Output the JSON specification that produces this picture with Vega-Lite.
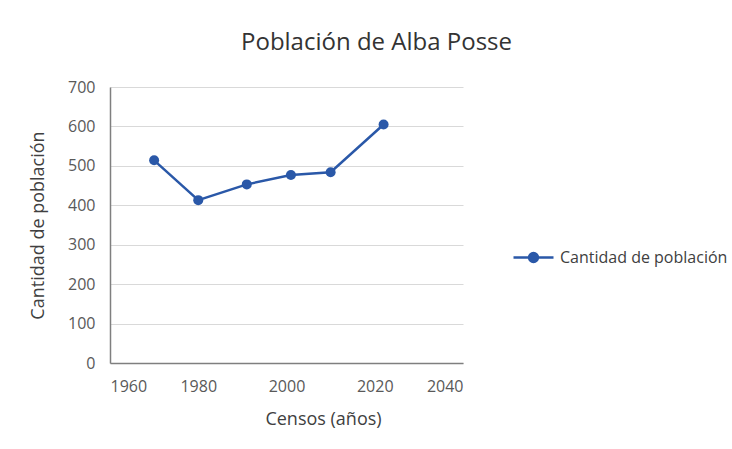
{
  "$schema": "https://vega.github.io/schema/vega-lite/v6.json",
  "width": 353,
  "height": 276,
  "autosize": {"type": "none"},
  "padding": {"left": 110, "top": 87, "right": 269, "bottom": 86},
  "background": "white",
  "title": {
    "text": "Población de Alba Posse",
    "font": "Open Sans",
    "fontSize": 24,
    "fontWeight": "normal",
    "color": "#333333",
    "anchor": "middle",
    "dx": 90,
    "offset": 24
  },
  "config": {
    "view": {"stroke": null},
    "font": "Open Sans"
  },
  "data": {
    "values": [
      {"anio": 1970, "poblacion": 514},
      {"anio": 1980, "poblacion": 413},
      {"anio": 1991, "poblacion": 453},
      {"anio": 2001, "poblacion": 477},
      {"anio": 2010, "poblacion": 484},
      {"anio": 2022, "poblacion": 605}
    ]
  },
  "encoding": {
    "x": {
      "field": "anio",
      "type": "quantitative",
      "scale": {"domain": [1960, 2040], "nice": false, "zero": false},
      "axis": {
        "title": "Censos (años)",
        "values": [1960, 1980, 2000, 2020, 2040],
        "format": "d",
        "grid": false,
        "ticks": false,
        "domainColor": "#7f7f7f",
        "domainWidth": 1.5,
        "labelFont": "Open Sans",
        "labelFontSize": 16,
        "labelColor": "#595959",
        "labelPadding": 15,
        "titleFont": "Open Sans",
        "titleFontSize": 18,
        "titleFontWeight": "normal",
        "titleColor": "#404040",
        "titleX": 213,
        "titleY": 61,
        "titleAlign": "center",
        "titleBaseline": "alphabetic"
      }
    },
    "y": {
      "field": "poblacion",
      "type": "quantitative",
      "scale": {"domain": [0, 700], "nice": false},
      "axis": {
        "title": "Cantidad de población",
        "values": [0, 100, 200, 300, 400, 500, 600, 700],
        "grid": true,
        "gridColor": "#d9d9d9",
        "gridWidth": 1,
        "ticks": false,
        "domainColor": "#7f7f7f",
        "domainWidth": 1.5,
        "labelFont": "Open Sans",
        "labelFontSize": 16,
        "labelColor": "#595959",
        "labelPadding": 15,
        "titleFont": "Open Sans",
        "titleFontSize": 18,
        "titleFontWeight": "normal",
        "titleColor": "#404040",
        "titlePadding": 20
      }
    },
    "color": {
      "datum": "Cantidad de población",
      "type": "nominal",
      "scale": {"range": ["#2a58a8"]},
      "legend": {
        "title": null,
        "orient": "none",
        "legendX": 402,
        "legendY": 149,
        "symbolType": "M-1,0L1,0M-0.22,0A0.22,0.22,0,1,1,0.22,0A0.22,0.22,0,1,1,-0.22,0Z",
        "symbolSize": 1600,
        "symbolStrokeWidth": 2.5,
        "symbolStrokeColor": "#2a58a8",
        "symbolFillColor": "#2a58a8",
        "labelFont": "Open Sans",
        "labelFontSize": 16,
        "labelColor": "#404040",
        "labelOffset": 5,
        "labelLimit": 300
      }
    }
  },
  "layer": [
    {
      "mark": {"type": "line", "strokeWidth": 2.5, "color": "#2f55a0"}
    },
    {
      "mark": {"type": "point", "filled": true, "size": 100, "opacity": 1}
    }
  ]
}
